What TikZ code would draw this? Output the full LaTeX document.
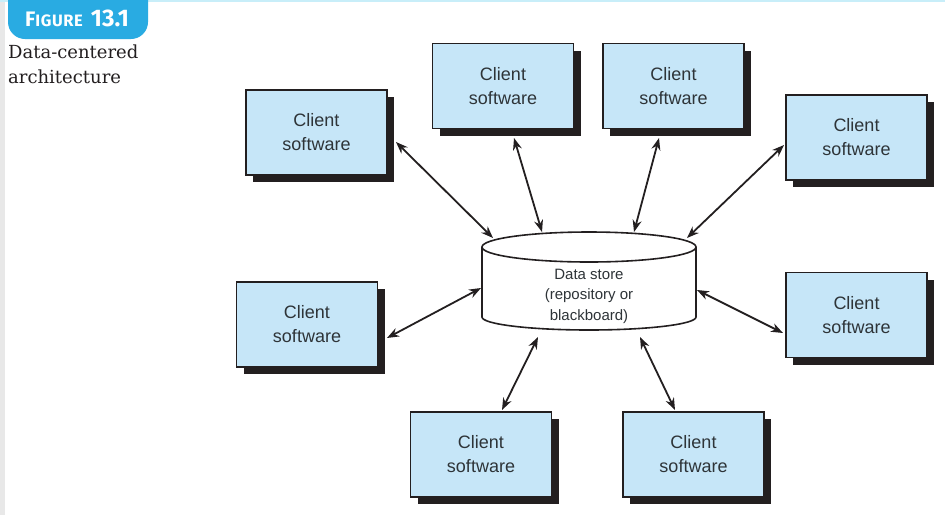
\documentclass[tikz,border=0pt]{standalone}
\usepackage{fontspec}
\setmainfont{Liberation Sans}
\newfontfamily\capfont{DejaVu Serif}
\newfontfamily\badgefont{Fira Sans}
\usetikzlibrary{arrows.meta,shadows,calc}
\definecolor{clientblue}{HTML}{C6E6F8}
\definecolor{badgecyan}{HTML}{29ABE2}
\definecolor{ink}{HTML}{231F20}
\definecolor{textgray}{HTML}{2E3438}
\definecolor{stripgray}{HTML}{E8E8E8}
\definecolor{topline}{HTML}{C8EEF9}
\begin{document}
\begin{tikzpicture}[x=1pt,y=-1pt,
  client/.style={draw=ink, line width=1.7pt, fill=clientblue,
    minimum width=141pt, minimum height=85pt, inner sep=0pt, align=center,
    font=\fontsize{18}{24}\selectfont, text=textgray,
    drop shadow={shadow xshift=7pt, shadow yshift=-7pt, fill=ink, opacity=1}},
  link/.style={draw=ink, line width=1.8pt,
    {Stealth[length=12pt,width=9pt]}-{Stealth[length=12pt,width=9pt]}},
  cyl/.style={draw=ink, line width=1.6pt},
]
\useasboundingbox (0,0) rectangle (945,515);
\fill[white] (0,0) rectangle (945,515);
\fill[stripgray] (0,0) rectangle (5,515);
\fill[topline] (0,0) rectangle (945,2);
\fill[badgecyan, rounded corners=17pt] (8,-25) rectangle (148,39);
\node[font=\badgefont\bfseries, text=white, anchor=base west, inner sep=0pt] (fig) at (25,26)
  {{\fontsize{21}{21}\selectfont F}{\fontsize{16.5}{17}\selectfont I\kern0.6pt G\kern0.6pt U\kern0.6pt R\kern0.6pt E}\hspace{8pt}{\fontsize{24}{24}\selectfont 13.1}};
\node[font=\capfont\fontsize{18}{25}\selectfont, text=ink, align=left, anchor=north west, inner sep=0pt] (cap) at (8,45)
  {Data-centered\\architecture};

\node[client] (b1) at (316.5,132.5) {Client\\software};
\node[client] (b2) at (503,86) {Client\\software};
\node[client] (b3) at (673.5,86) {Client\\software};
\node[client] (b4) at (856.5,137.5) {Client\\software};
\node[client] (b5) at (307,324.5) {Client\\software};
\node[client] (b6) at (856.5,315) {Client\\software};
\node[client] (b7) at (481,454.5) {Client\\software};
\node[client] (b8) at (693.5,454.5) {Client\\software};

\node[font=\fontsize{15}{20.5}\selectfont, text=textgray, align=center, inner sep=0pt] (store) at (589,296)
  {Data store\\(repository or\\blackboard)};
\draw[cyl] ([shift={(0,-49)}]store.center) ellipse [x radius=107pt, y radius=15pt];
\draw[cyl] ([shift={(-107,-49)}]store.center) -- ([shift={(-107,21)}]store.center)
  arc[start angle=180, end angle=360, x radius=107pt, y radius=13pt]
  -- ([shift={(107,-49)}]store.center);

\draw[link] ([shift={(79.5,9.5)}]b1.center) -- ([shift={(-96,-58)}]store.center);
\draw[link] ([shift={(11,52)}]b2.center) -- ([shift={(-47,-64)}]store.center);
\draw[link] ([shift={(-14.5,52)}]b3.center) -- ([shift={(45,-64)}]store.center);
\draw[link] ([shift={(-72.5,7.5)}]b4.center) -- ([shift={(98,-58)}]store.center);
\draw[link] ([shift={(80,13.5)}]b5.center) -- ([shift={(-108,-8)}]store.center);
\draw[link] ([shift={(-73.5,18)}]b6.center) -- ([shift={(108,-6)}]store.center);
\draw[link] ([shift={(21,-44.5)}]b7.center) -- ([shift={(-51,41)}]store.center);
\draw[link] ([shift={(-18.5,-44.5)}]b8.center) -- ([shift={(51,41)}]store.center);
\end{tikzpicture}
\end{document}
